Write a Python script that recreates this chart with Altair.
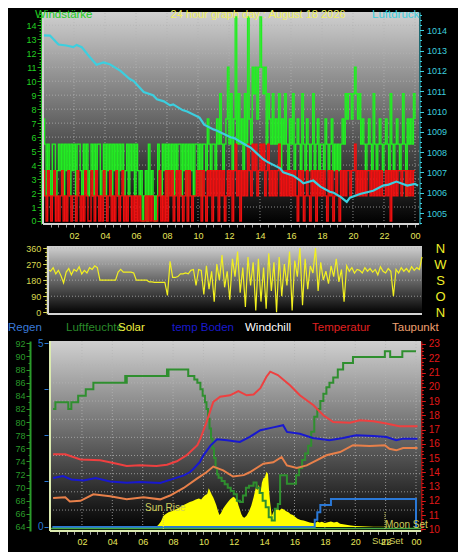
import altair as alt
import pandas as pd

W, H = 450, 544
FONT = "Liberation Sans"

# ---------------------------------------------------------------- data
# panel 1 : wind, 6-minute samples from 00:00 to 24:00 (m/s)
gust = [
 7.3,5.5,1.8,5.5,3.6,1.8,5.5,5.5,1.8,3.6,
 5.5,3.6,5.5,1.8,5.5,3.6,5.5,1.8,5.5,3.6,
 5.5,1.8,5.5,5.5,3.6,1.8,5.5,3.6,5.5,1.8,
 3.6,5.5,1.8,5.5,3.6,5.5,5.5,1.8,3.6,5.5,
 1.8,5.5,3.6,5.5,1.8,5.5,3.6,5.5,1.8,5.5,
 3.6,5.5,1.8,3.6,5.5,1.8,5.5,3.6,5.5,1.8,
 5.5,3.6,1.8,3.6,0,1.8,3.6,0,5.5,1.8,
 3.6,1.8,0,1.8,5.5,3.6,1.8,5.5,3.6,5.5,
 1.8,5.5,3.6,5.5,1.8,5.5,3.6,5.5,5.5,1.8,
 5.5,3.6,5.5,1.8,5.5,3.6,5.5,1.8,5.5,5.5,
 3.6,5.5,1.8,5.5,5.5,3.6,7.3,5.5,3.6,5.5,
 5.5,3.6,7.3,5.5,9.1,5.5,3.6,5.5,7.3,11.0,
 5.5,9.1,3.6,7.3,14.6,5.5,9.1,5.5,7.3,3.6,
 9.1,5.5,14.6,7.3,5.5,11.0,9.1,11.0,7.3,11.0,
 14.6,11.0,9.1,11.0,5.5,9.1,7.3,5.5,9.1,5.5,
 7.3,5.5,9.1,3.6,7.3,5.5,9.1,5.5,3.6,7.3,
 5.5,9.1,3.6,5.5,7.3,5.5,3.6,9.1,5.5,3.6,
 7.3,5.5,3.6,5.5,9.1,3.6,5.5,7.3,3.6,5.5,
 5.5,3.6,7.3,5.5,3.6,5.5,7.3,3.6,5.5,3.6,
 5.5,3.6,5.5,7.3,5.5,9.1,7.3,9.1,9.1,7.3,
 9.1,11.0,9.1,7.3,9.1,5.5,7.3,5.5,3.6,5.5,
 7.3,5.5,3.6,9.1,5.5,3.6,5.5,7.3,5.5,3.6,
 5.5,7.3,5.5,3.6,9.1,5.5,3.6,5.5,7.3,5.5,
 3.6,5.5,9.1,5.5,1.8,7.3,5.5,7.3,5.5,9.1,
 7.3]
wind = [
 3.6,1.8,0,3.6,1.8,0,1.8,3.6,0,1.8,
 0,1.8,3.6,0,1.8,0,3.6,1.8,0,1.8,
 1.8,0,3.6,1.8,0,1.8,0,3.6,1.8,0,
 0,3.6,1.8,0,3.6,1.8,0,1.8,0,3.6,
 1.8,0,1.8,3.6,0,1.8,0,3.6,1.8,0,
 1.8,3.6,0,1.8,0,1.8,1.8,0,1.8,0,
 1.8,0,1.8,0,0,0,1.8,0,1.8,0,
 1.8,0,0,0,1.8,3.6,0,1.8,0,3.6,
 0,3.6,1.8,3.6,0,1.8,3.6,0,3.6,1.8,
 0,1.8,3.6,0,3.6,1.8,0,1.8,1.8,3.6,
 1.8,3.6,0,3.6,1.8,0,3.6,1.8,3.6,0,
 3.6,1.8,3.6,0,3.6,1.8,3.6,0,1.8,3.6,
 1.8,3.6,0,3.6,5.5,1.8,3.6,0,3.6,1.8,
 3.6,1.8,5.5,3.6,1.8,5.5,3.6,5.5,1.8,3.6,
 5.5,3.6,5.5,1.8,3.6,5.5,1.8,3.6,1.8,3.6,
 1.8,3.6,5.5,1.8,3.6,1.8,3.6,1.8,3.6,1.8,
 3.6,1.8,3.6,1.8,0,3.6,1.8,3.6,0,1.8,
 3.6,1.8,0,3.6,1.8,3.6,0,3.6,1.8,3.6,
 1.8,3.6,1.8,0,3.6,1.8,3.6,0,1.8,3.6,
 1.8,0,3.6,1.8,3.6,1.8,3.6,3.6,1.8,3.6,
 3.6,5.5,1.8,3.6,1.8,3.6,1.8,3.6,1.8,3.6,
 3.6,1.8,3.6,1.8,3.6,1.8,3.6,1.8,3.6,1.8,
 1.8,3.6,1.8,3.6,0,3.6,1.8,3.6,1.8,3.6,
 3.6,1.8,3.6,3.6,1.8,3.6,1.8,3.6,1.8,3.6,
 3.6]
wind_hours = [i / 10 for i in range(241)]

pressure = [(0.0,1013.75),(0.45,1013.74),(1.0,1013.3),(1.5,1013.25),(1.95,1013.17),(2.17,1013.28),
 (2.5,1013.17),(3.0,1012.7),(3.45,1012.3),(3.9,1012.42),(4.3,1012.33),(5.0,1012.0),(5.6,1011.6),
 (5.85,1011.5),(6.5,1010.96),(7.1,1010.8),(7.35,1010.6),(7.8,1010.5),(8.2,1010.3),(8.4,1010.35),
 (9.0,1010.07),(9.3,1010.0),(10.1,1009.7),(10.4,1009.35),(11.0,1009.12),(11.2,1009.06),(12.1,1008.73),
 (12.3,1008.7),(13.2,1008.3),(13.4,1008.22),(14.2,1007.66),(14.45,1007.53),(15.3,1007.2),(15.5,1007.0),
 (16.15,1006.84),(16.6,1006.6),(16.8,1006.46),(17.44,1006.6),(17.9,1006.3),(18.5,1006.05),(18.75,1006.0),
 (19.2,1005.8),(19.6,1005.55),(19.8,1005.76),(20.45,1005.94),(21.3,1006.1),(21.95,1006.35),(22.3,1006.4),
 (22.8,1006.55),(23.5,1006.35),(24.0,1006.43),(24.2,1006.35)]

# panel 2 : wind direction, 10-minute samples (degrees)
direction = [
 240,230,250,215,235,205, 165,225,245,210,240,230, 255,215,235,220,250,240,
 260,250,180,180,180,180, 180,180,180,225,240,225, 225,225,225,220,180,180,
 180,180,180,170,170,168, 168,168,168,168,95,285, 195,195,200,215,215,220,
 215,235,240,150,240,235, 100,260,130,230,60,270, 180,320,140,230,70,300,
 200,340,110,250,30,310, 150,280,10,300,60,250, 20,330,120,280,0,310,
 90,270,150,340,10,290, 200,360,40,300,130,260, 220,360,120,280,180,230,
 160,260,200,300,170,240, 60,260,230,250,220,240, 235,220,250,230,245,225,
 240,210,255,230,220,245, 230,90,240,220,250,230, 245,225,255,235,250,240,
 310]
dir_hours = [i / 6 for i in range(145)]

# panel 3
humidity = [(0.1,82),(0.25,83),(1.1,82),(1.3,83),(1.75,84),(2.25,85),(2.75,86),(4.85,87),(4.9,86),
 (4.95,87),(7.6,88),(7.65,87),(7.7,88),(9.0,87),(9.4,86.5),(9.6,86),(9.8,85),(9.95,84),(10.1,83),
 (10.2,82),(10.3,80.5),(10.4,79),(10.5,77.5),(10.6,76),(10.7,74.5),(10.8,73),(10.9,72),(11.0,71.5),
 (11.2,71),(11.4,70.5),(11.6,70),(11.8,69.5),(12.0,69),(12.2,68),(12.4,67.8),(12.6,68.8),(12.8,70),
 (13.0,70.3),(13.3,70.8),(13.5,70),(13.7,69.2),(13.9,68),(14.1,67),(14.3,65.5),(14.5,65),(14.7,66.8),
 (14.9,67.5),(15.05,71.9),(15.4,71.9),(15.5,70.6),(16.0,70.6),(16.1,71.9),(16.3,73),(16.5,74.2),
 (16.7,75.2),(16.9,76.4),(17.1,78.5),(17.3,80.8),(17.5,82),(17.7,83.2),(17.9,84.3),(18.1,85.3),
 (18.3,86),(18.55,86.8),(18.85,88),(19.2,89),(19.85,89.9),(21.95,90.8),(22.3,89.9),(23.1,90.8),(24.0,90.8)]
temperature = [(0.1,15.26),(0.9,15.26),(1.9,14.9),(3.2,14.84),(4.3,14.6),(4.95,14.44),(5.8,14.5),
 (6.9,14.44),(7.6,14.53),(8.25,14.77),(8.9,15.2),(9.35,15.65),(9.6,15.9),(9.8,16.36),(10.2,17.5),
 (10.65,18.94),(11.1,19.3),(11.75,19.4),(12.3,19.7),(12.85,19.4),(13.3,19.45),(13.75,19.9),(14.15,20.7),
 (14.4,21.06),(14.9,20.82),(15.7,20.1),(16.35,19.4),(17.25,18.7),(17.9,18.0),(18.55,17.53),(19.65,17.48),
 (20.3,17.65),(21.2,17.58),(22.05,17.42),(22.9,17.23),(24.1,17.23)]
soil = [(0.1,13.6),(0.75,13.73),(1.3,13.5),(2.1,13.43),(2.9,13.6),(3.85,13.36),(4.95,13.26),(5.8,13.31),
 (7.15,13.25),(8.0,13.54),(8.7,13.78),(9.1,14.0),(9.35,14.25),(9.75,14.7),(10.0,15.19),(10.45,15.85),
 (10.9,16.32),(11.55,16.25),(12.4,16.13),(13.05,16.48),(13.75,16.95),(14.6,17.15),(15.25,17.3),
 (15.5,16.83),(16.35,16.7),(17.2,16.41),(18.3,16.25),(19.2,16.41),(20.05,16.6),(21.2,16.55),
 (22.05,16.48),(22.7,16.25),(23.15,16.36),(24.1,16.36)]
dewpoint = [(0.1,12.2),(0.9,12.25),(1.2,11.95),(1.9,12.0),(2.75,12.45),(3.85,12.32),(4.95,12.1),
 (6.05,12.25),(7.15,12.1),(7.8,12.37),(8.7,12.9),(9.55,13.54),(10.2,14.0),(10.65,14.4),(11.3,14.13),
 (11.95,13.7),(12.65,13.8),(13.05,14.0),(13.95,14.6),(14.6,14.7),(15.15,15.07),(15.5,14.48),
 (16.15,14.3),(16.8,14.48),(17.45,14.84),(18.1,15.19),(19.0,15.42),(19.85,15.9),(20.95,15.85),
 (21.95,15.9),(22.25,15.65),(22.7,15.54),(23.15,15.7),(24.1,15.7)]
rain = [(0.05,0),(17.33,0.2),(17.5,0.4),(17.7,0.6),(18.4,0.76),(24.0,0),(24.05,0)]
solar = [(6.8,0),(7.0,8),(7.2,30),(7.36,60),(7.5,70),(7.7,80),(7.9,85),(8.1,92),(8.3,100),(8.5,110),
 (8.7,120),(8.9,128),(9.1,136),(9.3,142),(9.5,150),(9.7,155),(9.85,150),(10.0,165),(10.1,172),
 (10.25,180),(10.35,210),(10.45,195),(10.55,175),(10.65,160),(10.75,140),(10.85,118),(10.95,90),
 (11.05,65),(11.15,75),(11.3,100),(11.45,118),(11.6,135),(11.75,150),(11.9,160),(12.0,165),(12.1,155),
 (12.2,150),(12.3,120),(12.4,95),(12.5,70),(12.6,55),(12.7,50),(12.85,62),(13.0,85),(13.15,115),
 (13.3,160),(13.45,215),(13.55,200),(13.65,230),(13.75,180),(13.85,240),(13.95,265),(14.05,270),
 (14.15,300),(14.25,290),(14.32,200),(14.4,130),(14.5,60),(14.6,80),(14.7,95),(14.85,105),(15.0,90),
 (15.15,100),(15.3,95),(15.45,85),(15.6,80),(15.75,70),(15.9,65),(16.05,55),(16.2,45),(16.4,38),
 (16.6,35),(16.8,30),(17.0,25),(17.2,22),(17.35,20),(17.5,30),(17.65,25),(17.8,28),(18.0,22),(18.2,26),
 (18.4,30),(18.6,24),(18.8,28),(19.0,18),(19.2,15),(19.4,12),(19.7,8),(20.0,6),(20.4,4),(20.8,3),
 (21.2,2),(21.6,1),(22.0,1),(22.5,0)]
sunrise_h = 7.36
sunset_h = 21.96

# ---------------------------------------------------------------- helpers
def S(dom, rng):
    return alt.Scale(domain=dom, range=rng, nice=False, zero=False)

X1D, W1D, P1D = [0, 24.26], [-0.215, 14.95], [1004.46, 1014.9]
X2D, D2D = [0, 24], [-9.5, 371.2]
X3D, R3D, H3D, T3D, S3D = [-0.105, 24.33], [-0.109, 5.063], [63.39, 92.35], [9.88, 23.21], [-21.7, 1010.9]
X1, WIND, PRES = S(X1D, [35, 411]), S(W1D, [216, 4]), S(P1D, [216, 4])
X2, DIR = S(X2D, [40, 414]), S(D2D, [306, 238])
X3, RAIN, HUM, TEMP, SOL = (S(X3D, [42, 413]), S(R3D, [523, 333]), S(H3D, [523, 333]),
                            S(T3D, [523, 333]), S(S3D, [523, 333]))


def ax(**kw):
    base = dict(title=None, grid=False, labelFont=FONT, labelFontSize=9, labelOverlap=False)
    base.update(kw)
    return alt.Axis(**base)


def pairs(p):
    return pd.DataFrame(p, columns=["h", "v"])


GRAD = {"gradient": "linear", "x1": 0, "y1": 0, "x2": 0, "y2": 1,
        "stops": [{"offset": 0, "color": "#d0d0d0"}, {"offset": 1, "color": "#000000"}]}


def bg(xs, xd, ys, yd, yaxis=None):
    df = pd.DataFrame({"a": [xd[0]], "b": [xd[1]], "c": [yd[0]], "d": [yd[1]]})
    return alt.Chart(df).mark_rect(fill=GRAD, strokeWidth=0).encode(
        x=alt.X("a:Q", scale=xs, axis=None), x2="b:Q",
        y=alt.Y("c:Q", scale=ys, axis=yaxis), y2="d:Q")


def hgrid(vals, xs, xd, ys, yaxis=None):
    df = pd.DataFrame({"v": vals, "a": xd[0], "b": xd[1]})
    return alt.Chart(df).mark_rule(color="#b4b4b4", strokeDash=[1, 2], strokeWidth=1, opacity=0.75).encode(
        x=alt.X("a:Q", scale=xs, axis=None), x2="b:Q", y=alt.Y("v:Q", scale=ys, axis=yaxis))


def vgrid(vals, xs, ys, yd):
    df = pd.DataFrame({"v": vals, "c": yd[0], "d": yd[1]})
    return alt.Chart(df).mark_rule(color="#b4b4b4", strokeDash=[1, 2], strokeWidth=1, opacity=0.75).encode(
        x=alt.X("v:Q", scale=xs, axis=None), y=alt.Y("c:Q", scale=ys, axis=None), y2="d:Q")


def frame(xs, xd, ys, yd, color="#d4d4d4"):
    left = alt.Chart(pd.DataFrame({"a": [xd[0]], "c": [yd[0]], "d": [yd[1]]})).mark_rule(
        color=color, strokeWidth=2).encode(
        x=alt.X("a:Q", scale=xs, axis=None), y=alt.Y("c:Q", scale=ys, axis=None), y2="d:Q")
    bottom = alt.Chart(pd.DataFrame({"a": [xd[0]], "b": [xd[1]], "c": [yd[0]]})).mark_rule(
        color=color, strokeWidth=2).encode(
        x=alt.X("a:Q", scale=xs, axis=None), x2="b:Q", y=alt.Y("c:Q", scale=ys, axis=None))
    return [left, bottom]


def line(df, xs, ys, color, w=1.5, interp="linear", xa=None, ya=None, opacity=1):
    return alt.Chart(df).mark_line(color=color, strokeWidth=w, interpolate=interp, opacity=opacity).encode(
        x=alt.X("h:Q", scale=xs, axis=xa), y=alt.Y("v:Q", scale=ys, axis=ya))


def label(text, x, y, color, size=11.5, align="left"):
    return alt.Chart(pd.DataFrame({"t": [text]})).mark_text(
        align=align, baseline="middle", color=color, fontSize=size, font=FONT).encode(
        text="t:N", x=alt.value(x), y=alt.value(y))


LABX = ("datum.value % 2 == 0 && datum.value > 0 ? (datum.value == 24 ? '00' : "
        "(datum.value < 10 ? '0' + datum.value : '' + datum.value)) : ''")
HALF_HOURS = [k * 0.5 for k in range(1, 49)]


def xaxis(offset, pad=4):
    return ax(orient="bottom", offset=offset, values=HALF_HOURS, labelExpr=LABX, tickSize=3,
              tickColor="#a0a0a0", domain=False, labelColor="#e6e65a", labelPadding=pad,
              labelFlush=False)


# ---------------------------------------------------------------- panel 1
wind_df = pd.DataFrame({"h": wind_hours, "v": wind})
gust_df = pd.DataFrame({"h": wind_hours, "v": gust})
pres_df = pairs(pressure)
GREEN_AX = "#20b020"
CYAN = "#3ccfdf"

p1 = [
    bg(X1, X1D, WIND, W1D),
    hgrid(list(range(1, 15)), X1, X1D, WIND,
          ax(orient="left", offset=-33, values=[round(k * 0.2, 1) for k in range(75)], labels=False,
             domain=False, tickSize=2, tickColor=GREEN_AX)),
    vgrid(list(range(2, 25, 2)), X1, WIND, W1D),
    line(gust_df, X1, WIND, "#22ee22", 1.4, "step-after", xa=xaxis(216 - H),
         ya=ax(orient="left", offset=-33, values=list(range(15)), format="d", tickSize=4,
               tickColor=GREEN_AX, domainColor=GREEN_AX, labelColor="#22d022", labelPadding=1)),
    line(wind_df, X1, WIND, "#f01010", 1.4, "step-after"),
    line(pres_df, X1, PRES, CYAN, 2.2,
         ya=ax(orient="right", offset=-38.5, values=list(range(1005, 1015)), format="d", tickSize=4,
               tickColor=CYAN, domainColor=CYAN, labelColor=CYAN, labelPadding=3)),
    line(pres_df, X1, PRES, CYAN, 1, opacity=0,
         ya=ax(orient="right", offset=-38.5, values=[round(1004.5 + 0.25 * k, 2) for k in range(42)],
               labels=False, domain=False, tickSize=2, tickColor=CYAN)),
] + frame(X1, X1D, WIND, W1D)

# ---------------------------------------------------------------- panel 2
dir_df = pd.DataFrame({"h": dir_hours, "v": direction})
YEL_AX = "#d8d850"
NWSON = ("datum.value == 90 ? 'O' : datum.value == 180 ? 'S' : "
         "datum.value == 270 ? 'W' : 'N'")
p2 = [
    bg(X2, X2D, DIR, D2D,
       ax(orient="right", offset=-18, values=[0, 90, 180, 270, 360], labelExpr=NWSON, ticks=False,
          tickSize=0, domain=False, labelPadding=0, labelAlign="center", labelFontSize=13,
          labelColor="#f0f028")),
    hgrid([90, 180, 270, 360], X2, X2D, DIR,
          ax(orient="left", offset=-38.7, values=[k * 22.5 for k in range(17)], labels=False,
             domain=False, tickSize=2, tickColor=YEL_AX)),
    line(dir_df, X2, DIR, "#f2f020", 1.2,
         ya=ax(orient="left", offset=-38.7, values=[0, 90, 180, 270, 360], format="d", tickSize=4,
               tickColor=YEL_AX, domainColor=YEL_AX, labelColor=YEL_AX, labelPadding=2)),
] + frame(X2, X2D, DIR, D2D)

# ---------------------------------------------------------------- panel 3
HUM_C = "#2a9a2a"
RED = "#e01818"
BLUE_R = "#2a78d6"
KHAKI = "#cfcf5c"
sol_df = pairs(solar)
marks_df = pd.DataFrame({"h": [sunrise_h, sunset_h], "c": [63.7, 63.7], "d": [66.3, 66.4]})

p3 = [
    bg(X3, X3D, HUM, H3D,
       ax(orient="left", offset=-22, values=list(range(64, 93)), labels=False, domain=False,
          tickSize=2, tickColor=HUM_C)),
    hgrid([11.35, 12.63, 13.9, 15.18, 16.45, 17.72, 19.0, 20.27, 21.54], X3, X3D, TEMP,
          ax(orient="right", offset=-36.7, values=[round(10 + 0.25 * k, 2) for k in range(53)],
             labels=False, domain=False, tickSize=2, tickColor=RED)),
    vgrid(list(range(2, 25, 2)), X3, HUM, H3D),
    alt.Chart(sol_df).mark_area(color="#ffff00", interpolate="linear").encode(
        x=alt.X("h:Q", scale=X3, axis=None), y=alt.Y("v:Q", scale=SOL, axis=None), y2=alt.datum(0)),
    line(pairs(humidity), X3, HUM, "#2f8f2f", 2, "step-after", xa=xaxis(523.3 - H, 3),
         ya=ax(orient="left", offset=-22, values=list(range(64, 93, 2)), format="d", tickSize=4,
               tickColor=HUM_C, domainColor=HUM_C, domainWidth=2, labelColor=HUM_C, labelPadding=1)),
    line(pairs(temperature), X3, TEMP, "#ee4040", 2,
         ya=ax(orient="right", offset=-36.7, values=list(range(10, 24)), format="d", tickSize=4,
               tickColor=RED, domainColor=RED, labelColor=RED, labelPadding=3, labelFontSize=10)),
    line(pairs(soil), X3, TEMP, "#1818d0", 2),
    line(pairs(dewpoint), X3, TEMP, "#e8804a", 2),
    line(pairs(rain), X3, RAIN, BLUE_R, 2, "step-after",
         ya=ax(orient="left", offset=-40, values=[0, 1.25, 2.5, 3.75, 5],
               labelExpr="datum.value == 0 ? '0' : datum.value == 5 ? '5' : ''", domain=False,
               tickSize=4, tickColor=BLUE_R, labelColor=BLUE_R, labelPadding=1, labelFontSize=10)),
    hgrid([63.77], X3, X3D, HUM).mark_rule(color="#46a846", strokeWidth=1.5),
    alt.Chart(marks_df).mark_rule(color=KHAKI, strokeDash=[1, 1], strokeWidth=1).encode(
        x=alt.X("h:Q", scale=X3, axis=None), y=alt.Y("c:Q", scale=HUM, axis=None), y2="d:Q"),
] + frame(X3, X3D, HUM, H3D, color="#dcebb0")

# ---------------------------------------------------------------- texts
texts = [
    label("Windstärke", 27, 7, "#22cc22", 11.5),
    label("24 hour graph day : August 18 2026", 250, 7, "#f0f060", 11, "center"),
    label("Luftdruck", 364, 7, CYAN, 11.5),
    label("Regen", 0, 320, "#3a7ad8"),
    label("Luftfeuchte", 58, 320, "#2a8a2a"),
    label("Solar", 110, 320, "#f0f040"),
    label("temp Boden", 164, 320, "#1a1acd"),
    label("Windchill", 237, 320, "#ffffff"),
    label("Temperatur", 304, 320, "#e02020"),
    label("Taupunkt", 384, 320, "#f0a070"),
    label("Sun Rise", 137, 500, KHAKI, 10),
    label("SunSet", 364, 533, KHAKI, 9.5),
    label("Moon Set", 377, 517, KHAKI, 10),
]

chart = alt.layer(*(p1 + p2 + p3 + texts)).resolve_scale(
    x="independent", y="independent"
).properties(
    width=W, height=H, padding=0, background="#000000",
    autosize=alt.AutoSizeParams(type="none"),
).configure_view(stroke=None)

chart.save("out.html", embed_options={"renderer": "svg", "actions": False})
